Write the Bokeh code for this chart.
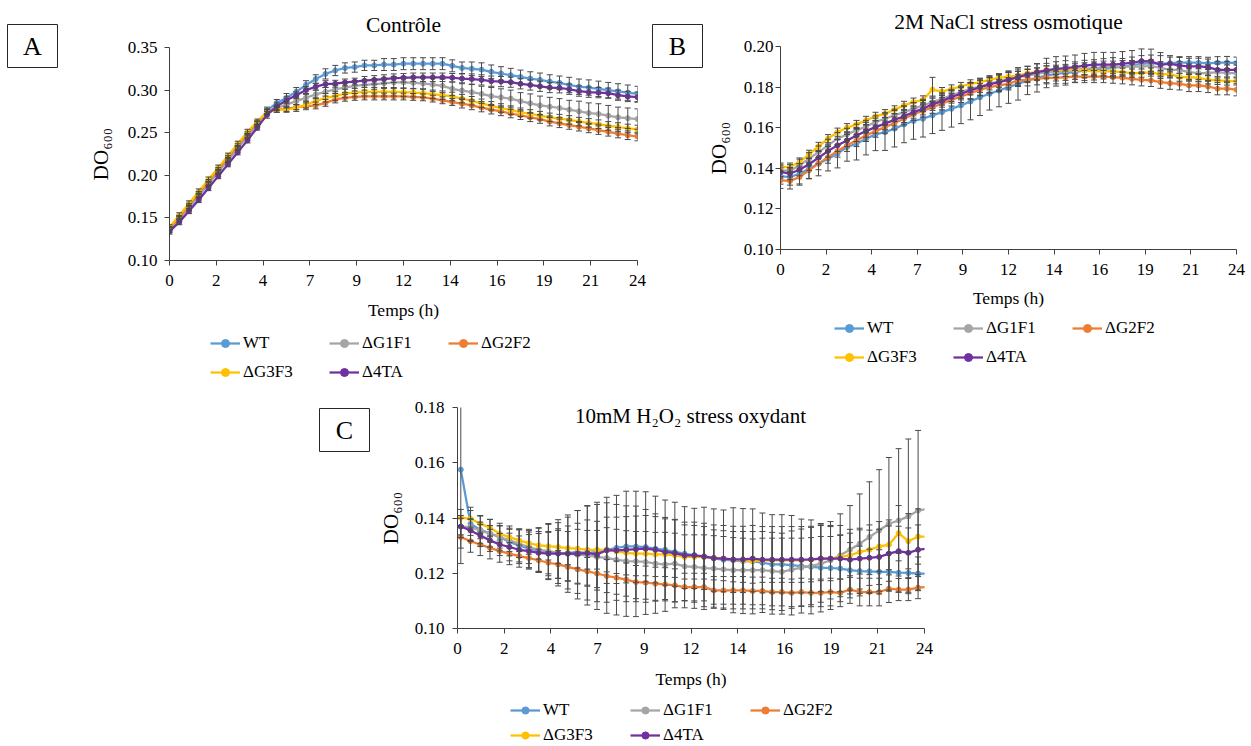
from bokeh.plotting import figure
from bokeh.models import (Range1d, FixedTicker, Label, Legend, LegendItem, Spacer,
                          ColumnDataSource)
from bokeh.layouts import column, row
from bokeh.embed import file_html
from bokeh.resources import INLINE

# ---------------- data ----------------
SERIES = ["WT", "ΔG1F1", "ΔG2F2", "ΔG3F3", "Δ4TA"]
COLORS = ["#5B9BD5", "#A5A5A5", "#ED7D31", "#FFC000", "#7030A0"]

TIME_AB = [0.0, 0.5, 1.0, 1.5, 2.0, 2.5, 3.0, 3.5, 4.0, 4.5, 5.0, 5.5, 6.0, 6.5, 7.0, 7.5,
           8.0, 8.5, 9.0, 9.5, 10.0, 10.5, 11.0, 11.5, 12.0, 12.5, 13.0, 13.5, 14.0, 14.5,
           15.0, 15.5, 16.0, 16.5, 17.0, 17.5, 18.0, 18.5, 19.0, 19.5, 20.0, 20.5, 21.0,
           21.5, 22.0, 22.5, 23.0, 23.5, 24.0]
TIME_C = [0.17, 0.67, 1.17, 1.67, 2.17, 2.67, 3.17, 3.67, 4.17, 4.67, 5.17, 5.67, 6.17,
          6.67, 7.17, 7.67, 8.17, 8.67, 9.17, 9.67, 10.17, 10.67, 11.17, 11.67, 12.17,
          12.67, 13.17, 13.67, 14.17, 14.67, 15.17, 15.67, 16.17, 16.67, 17.17, 17.67,
          18.17, 18.67, 19.17, 19.67, 20.17, 20.67, 21.17, 21.67, 22.17, 22.67, 23.17,
          23.67, 24.17]

X_TICKS = [0, 2.4, 4.8, 7.2, 9.6, 12, 14.4, 16.8, 19.2, 21.6, 24]
X_TICK_LABELS = ["0", "2", "4", "7", "9", "12", "14", "16", "19", "21", "24"]

TITLES = ["Contrôle", "2M NaCl stress osmotique", "10mM H₂O₂ stress oxydant"]
PANEL_LETTERS = ["A", "B", "C"]
X_LABEL = "Temps (h)"
Y_LABEL = "DO₆₀₀"

# ---- Panel A : Contrôle
A_Y_TICKS = [0.10, 0.15, 0.20, 0.25, 0.30, 0.35]
A_Y_LABELS = ["0.10", "0.15", "0.20", "0.25", "0.30", "0.35"]
A_WT = [.136, .149, .162, .176, .190, .204, .218, .232, .246, .260,
        .276, .285, .291, .298, .306, .313, .319, .323, .326, .327, .329, .329, .330, .330,
        .331, .331, .331, .331, .331, .3285, .326, .325, .324, .3215, .3195, .3175, .3155,
        .3135, .312, .310, .3085, .306, .304, .303, .3015, .300, .2985, .297, .2955]
A_G1F1 = [.137, .150, .163, .177, .191, .205, .219, .233, .247, .261,
          .275, .279, .283, .287, .291, .295, .298, .301, .303, .305, .306, .307, .308, .309,
          .309, .3085, .308, .3065, .305, .3015, .2995, .2975, .2955, .293, .2915, .290,
          .287, .2845, .282, .2805, .279, .277, .275, .273, .272, .270, .268, .267, .266]
A_G2F2 = [.138, .151, .165, .179, .193, .207, .221, .235, .249, .262,
          .274, .277, .278, .280, .281, .282, .285, .289, .291, .292, .2925, .2925, .2925,
          .2925, .2925, .292, .2915, .290, .288, .286, .284, .282, .2795, .277, .275, .2725,
          .2705, .268, .266, .263, .261, .259, .257, .255, .253, .251, .249, .247, .2455]
A_G3F3 = [.139, .153, .167, .181, .195, .209, .223, .237, .251, .263,
          .274, .277, .277, .279, .283, .287, .291, .293, .296, .297, .298, .298, .298, .298,
          .2976, .297, .2965, .295, .294, .2925, .290, .2875, .2845, .2815, .279, .2765,
          .274, .272, .270, .268, .2665, .265, .263, .2615, .260, .258, .2567, .255, .2538]
A_4TA = [.134, .145, .158, .171, .185, .199, .213, .227, .241, .256,
         .271, .281, .288, .294, .300, .304, .307, .3075, .309, .310, .311, .312, .313, .314,
         .3144, .315, .315, .315, .315, .3145, .3135, .313, .312, .3105, .310, .3093, .3074,
         .306, .3045, .303, .3027, .301, .2988, .2975, .297, .2964, .294, .2925, .2917]
A_WT_SD = [.003, .003, .003, .003, .003, .003, .003, .003, .003, .003,
           .004, .004, .005, .005, .005, .005, .006, .006, .006, .006,
           .006, .006, .007, .007, .007, .007, .007, .007, .007, .007, .007, .008, .008,
           .008, .008, .008, .008, .008, .008, .008, .008, .009, .009, .009, .009, .009,
           .009, .009, .009]
A_G1F1_SD = [.002, .002, .002, .002, .002, .002, .002, .002, .002, .002,
             .003, .003, .004, .004, .004, .005, .005, .005, .006, .006,
             .006, .006, .006, .007, .007, .007, .007, .008, .008, .008, .009, .009, .009,
             .010, .010, .010, .010, .011, .011, .011, .011, .011, .012, .012, .012, .012,
             .012, .012, .012]
A_G2F2_SD = [.002, .002, .002, .002, .002, .002, .002, .002, .002, .002,
             .003, .003, .003, .003, .004, .004, .004, .004, .004, .004,
             .004, .004, .004, .004, .004, .004, .004, .004, .004, .004, .005, .005, .005,
             .005, .005, .005, .005, .005, .005, .005, .005, .005, .005, .005, .005, .005,
             .005, .005, .005]
A_G3F3_SD = [.003, .003, .003, .003, .003, .003, .003, .003, .003, .003,
             .003, .003, .003, .004, .004, .004, .005, .005, .005, .005,
             .005, .005, .005, .005, .005, .005, .005, .005, .005, .005, .005, .005, .005,
             .005, .005, .005, .005, .005, .005, .005, .005, .005, .005, .005, .005, .005,
             .005, .005, .005]
A_4TA_SD = [.003, .003, .003, .003, .003, .003, .003, .003, .003, .003,
            .004, .004, .004, .004, .004, .004, .004, .004, .004, .004,
            .005, .005, .005, .005, .005, .005, .005, .005, .005, .005, .006, .006, .006,
            .006, .006, .006, .006, .006, .006, .006, .006, .006, .006, .006, .006, .006,
            .006, .006, .006]

# ---- Panel B : 2M NaCl
B_Y_TICKS = [0.10, 0.12, 0.14, 0.16, 0.18, 0.20]
B_Y_LABELS = ["0.10", "0.12", "0.14", "0.16", "0.18", "0.20"]
B_WT = [.1362, .1357, .1373, .1398, .1423, .1447, .1472, .1505, .1521, .1546, .1567, .1578,
        .1595, .1616, .1633, .1644, .1661, .1677, .1693, .171, .1729, .175, .1767, .1783,
        .180, .1816, .1833, .1846, .1857, .1865, .187, .1874, .1882, .1885, .189, .1895,
        .1901, .1908, .1915, .1918, .1915, .1918, .192, .192, .192, .1917, .192, .1921, .1918]
B_G1F1 = [.139, .1388, .1415, .1447, .148, .1513, .1546, .1567, .1587, .1606, .1628, .1644,
          .1661, .1677, .1693, .171, .1726, .1742, .1759, .1775, .1792, .1803, .1816, .1829,
          .1841, .1849, .1857, .1865, .1874, .1878, .1882, .1885, .189, .1894, .1898, .1898,
          .1901, .1901, .1901, .1904, .1895, .1885, .1885, .1874, .1869, .1869, .1874, .1869,
          .1869]
B_G2F2 = [.1341, .1338, .1357, .139, .1423, .1455, .1485, .1513, .1537, .1562, .1583, .1603,
          .1623, .1644, .1666, .1682, .1701, .1718, .1737, .1754, .177, .1787, .180, .1808,
          .1816, .1833, .1836, .1841, .1846, .1846, .1849, .1852, .1852, .1852, .1852, .1849,
          .1846, .1841, .1836, .1833, .1824, .1819, .1816, .1808, .1808, .1803, .1792, .1792,
          .1787]
B_G3F3 = [.1406, .1406, .1431, .1469, .1508, .1546, .1578, .160, .1616, .1636, .1656, .1669,
          .1688, .171, .1726, .1737, .1788, .1778, .1791, .1803, .1816, .1824, .1836, .1846,
          .1852, .1857, .1869, .1874, .1885, .1882, .1885, .1885, .1882, .1878, .1878, .1878,
          .1874, .1869, .1869, .1874, .1862, .1865, .1849, .1849, .1846, .1836, .1833, .183,
          .183]
B_4TA = [.1382, .1374, .1393, .142, .1452, .1485, .1513, .1537, .1562, .1583, .1603, .162,
         .1639, .1656, .1677, .1693, .1715, .1731, .1751, .1767, .1783, .180, .1813, .1824,
         .1836, .1849, .1862, .1874, .1882, .189, .1893, .1898, .1906, .1911, .1911, .1911,
         .1915, .192, .1928, .1927, .191, .1915, .1906, .1902, .1902, .1898, .1885, .1885,
         .1885]
B_WT_SD = [.004, .004, .005, .005, .006, .006, .007, .007, .008, .008,
           .008, .009, .009, .009, .009, .009, .009, .009, .009, .009,
           .009, .009, .008, .008, .008, .008, .007, .007, .006, .006,
           .006, .005, .005, .005, .005, .005, .004, .004, .004, .004,
           .004, .003, .003, .003, .003, .003, .003, .003, .003]
B_G1F1_SD = [.003, .003, .003, .003, .003, .003, .003, .003, .003, .003,
             .003, .003, .003, .003, .003, .003, .003, .003, .003, .003,
             .003, .003, .003, .003, .003, .003, .003, .003, .003, .003,
             .003, .003, .003, .003, .003, .003, .003, .003, .003, .003,
             .003, .003, .004, .004, .004, .004, .004, .004, .004]
B_G2F2_SD = [.004, .004, .004, .004, .003, .003, .003, .003, .003, .003,
             .003, .003, .003, .003, .003, .003, .003, .003, .003, .003,
             .003, .003, .003, .003, .003, .003, .003, .003, .003, .003,
             .003, .003, .003, .003, .003, .003, .003, .003, .003, .003,
             .003, .003, .003, .003, .003, .003, .003, .003, .003]
B_G3F3_SD = [.002, .002, .002, .002, .002, .002, .002, .002, .002, .002,
             .002, .002, .002, .002, .002, .002, .006, .002, .002, .002,
             .002, .002, .002, .002, .002, .002, .002, .002, .002, .002,
             .002, .002, .002, .002, .002, .002, .002, .002, .002, .002,
             .002, .002, .002, .002, .002, .002, .002, .002, .002]
B_4TA_SD = [.003, .003, .003, .003, .003, .003, .003, .003, .003, .003,
            .003, .003, .003, .003, .003, .003, .003, .003, .003, .003,
            .004, .004, .004, .004, .004, .004, .004, .004, .006, .006,
            .006, .006, .006, .006, .006, .006, .006, .006, .006, .006,
            .006, .004, .004, .004, .004, .004, .004, .004, .004]

# ---- Panel C : 10mM H2O2
C_Y_TICKS = [0.10, 0.12, 0.14, 0.16, 0.18]
C_Y_LABELS = ["0.10", "0.12", "0.14", "0.16", "0.18"]
C_WT = [.1575, .1379, .1357, .1345, .1331, .1313, .1301, .1289, .1283, .1277, .1273, .1273,
        .1277, .1273, .1277, .1285, .1292, .1297, .1297, .1295, .1289, .1285, .1277, .1271,
        .1265, .1259, .1253, .1249, .1247, .1244, .1243, .1238, .1232, .1232, .1229, .1226,
        .1223, .122, .1219, .1217, .1211, .1208, .1207, .1205, .1205, .1202, .1201, .1199,
        .1199]
C_G1F1 = [.1369, .1367, .1355, .1343, .1331, .1319, .1307, .1295, .1285, .128, .1274, .1271,
          .1267, .1265, .1259, .1255, .1249, .1244, .1243, .1241, .1235, .1232, .1235, .1225,
          .1223, .1219, .1217, .1214, .1211, .1211, .1211, .1211, .1208, .1205, .1213, .122,
          .1226, .1235, .1247, .1265, .1285, .1307, .1331, .1355, .1379, .1391, .1406, .1427,
          .1433]
C_G2F2 = [.1331, .1316, .1304, .1292, .128, .1271, .1262, .1255, .1247, .1238, .1232, .1223,
          .1214, .1207, .1199, .119, .1184, .1177, .1168, .1166, .1162, .116, .1156, .115,
          .115, .115, .1138, .1138, .1138, .1138, .1136, .1136, .1132, .1132, .1129, .1132,
          .1129, .1129, .1132, .1129, .1141, .1132, .1132, .1132, .1144, .1141, .1141, .1148,
          .115]
C_G3F3 = [.1401, .1397, .1379, .1365, .1343, .1331, .1319, .1309, .1301, .1298, .1295, .1291,
          .1289, .1285, .1285, .1285, .1279, .1274, .1271, .1271, .1268, .1268, .1265, .1259,
          .1259, .1259, .1256, .1253, .1249, .1247, .1244, .1247, .1247, .1247, .1247, .1247,
          .1249, .1253, .1253, .1259, .1265, .1277, .1285, .1297, .1303, .1345, .1316, .1333,
          .1333]
C_4TA = [.1369, .1355, .1337, .1319, .1304, .1295, .1285, .128, .1274, .1271, .1271, .1271,
         .1271, .1273, .1268, .1283, .1283, .1285, .1287, .1289, .1285, .1277, .1273, .1265,
         .1265, .1261, .1255, .1253, .125, .125, .1253, .1249, .1249, .1249, .1249, .1249,
         .125, .1253, .1253, .1253, .1249, .1253, .1256, .1259, .1271, .128, .1274, .1285,
         .1289]
C_WT_SD = [.034, .006, .005, .005, .005, .005, .006, .007, .008, .010,
           .011, .013, .015, .017, .018, .019, .019, .020, .020, .020,
           .019, .018, .018, .017, .017, .018, .018, .018, .019, .019,
           .019, .018, .018, .018, .018, .017, .017, .016, .015, .012,
           .010, .009, .008, .008, .007, .007, .007, .006, .006]
C_G1F1_SD = [.003, .003, .003, .003, .004, .004, .005, .006, .008, .010,
             .012, .014, .016, .018, .019, .020, .020, .020, .020, .019,
             .018, .017, .016, .015, .015, .015, .014, .014, .014, .014,
             .014, .014, .014, .014, .014, .014, .014, .014, .014, .015,
             .016, .018, .020, .022, .024, .026, .028, .029, .030]
C_G2F2_SD = [.004, .004, .004, .004, .004, .004, .004, .004, .004, .004,
             .005, .005, .005, .005, .006, .006, .006, .006, .006, .006,
             .006, .006, .006, .005, .005, .005, .005, .005, .005, .005,
             .005, .005, .005, .005, .005, .005, .005, .005, .005, .005,
             .005, .005, .005, .005, .005, .004, .004, .004, .004]
C_G3F3_SD = [.003, .003, .003, .003, .003, .004, .004, .004, .005, .005,
             .006, .006, .007, .007, .007, .008, .008, .008, .008, .008,
             .008, .008, .008, .008, .008, .008, .008, .008, .008, .008,
             .008, .008, .008, .008, .008, .008, .008, .008, .008, .008,
             .008, .008, .009, .009, .009, .010, .010, .010, .010]
C_4TA_SD = [.004, .004, .004, .004, .004, .005, .005, .006, .007, .008,
            .009, .010, .011, .012, .012, .012, .012, .012, .012, .012,
            .012, .012, .012, .012, .012, .012, .012, .012, .012, .012,
            .012, .012, .012, .012, .012, .012, .012, .012, .012, .012,
            .011, .011, .010, .010, .010, .009, .009, .009, .009]

# ---------------- style ----------------
FONT = "Liberation Serif"
AXIS_COLOR = "#404040"
ERR_COLOR = "#4a4a4a"


def make_panel(width, height, mb, y_range, y_ticks, y_labels, y_standoff,
               ylab_standoff, xlab_standoff, time, values, sds):
    p = figure(width=width, height=height, title=None,
               x_range=Range1d(0, 24), y_range=Range1d(*y_range),
               output_backend="svg", toolbar_location=None,
               min_border_left=mb[0], min_border_right=mb[1],
               min_border_top=mb[2], min_border_bottom=mb[3])
    p.outline_line_color = None
    p.xgrid.visible = False
    p.ygrid.visible = False
    p.background_fill_color = "white"
    p.border_fill_color = "white"

    p.xaxis.ticker = FixedTicker(ticks=X_TICKS)
    p.xaxis.major_label_overrides = dict(zip(X_TICKS, X_TICK_LABELS))
    p.yaxis.ticker = FixedTicker(ticks=y_ticks)
    p.yaxis.major_label_overrides = dict(zip(y_ticks, y_labels))
    for ax in (p.xaxis[0], p.yaxis[0]):
        ax.axis_line_color = AXIS_COLOR
        ax.axis_line_width = 1
        ax.major_tick_line_color = AXIS_COLOR
        ax.minor_tick_line_color = None
        ax.major_tick_out = 5
        ax.major_tick_in = 0
        ax.major_label_text_font = FONT
        ax.major_label_text_font_size = "17px"
        ax.major_label_text_color = "black"
        ax.axis_label_text_font = FONT
        ax.axis_label_text_font_style = "normal"
        ax.axis_label_text_color = "black"
    p.xaxis.major_label_standoff = 9
    p.yaxis.major_label_standoff = y_standoff
    p.xaxis.axis_label = X_LABEL
    p.xaxis.axis_label_text_font_size = "17.5px"
    p.xaxis.axis_label_standoff = xlab_standoff
    p.yaxis.axis_label = Y_LABEL
    p.yaxis.axis_label_text_font_size = "21px"
    p.yaxis.axis_label_standoff = ylab_standoff

    for color, vals in zip(COLORS, values):
        src = ColumnDataSource(dict(t=time, y=vals))
        p.line("t", "y", source=src, line_color=color, line_width=2.25)
        p.scatter("t", "y", source=src, marker="circle", size=5,
                  fill_color=color, line_color=color)
    for vals, sd in zip(values, sds):
        src = ColumnDataSource(dict(t=time,
                                    lo=[v - s for v, s in zip(vals, sd)],
                                    hi=[v + s for v, s in zip(vals, sd)]))
        p.segment(x0="t", y0="lo", x1="t", y1="hi", source=src,
                  line_color=ERR_COLOR, line_width=1)
        p.scatter("t", "hi", source=src, marker="dash", size=6,
                  line_color=ERR_COLOR, line_width=1)
        p.scatter("t", "lo", source=src, marker="dash", size=6,
                  line_color=ERR_COLOR, line_width=1)
    return p


def blank_fig(width, height, border=0):
    f = figure(width=width, height=height, x_range=Range1d(0, 1), y_range=Range1d(0, 1),
               x_axis_type=None, y_axis_type=None, title=None, min_border=border,
               output_backend="svg", toolbar_location=None)
    f.grid.visible = False
    f.outline_line_color = None
    f.background_fill_color = "white"
    f.border_fill_color = "white"
    return f


def legend_fig(width, height, loc, gh, spacing, lw):
    f = blank_fig(width, height)
    items = []
    for name, color in zip(SERIES, COLORS):
        # sample renderers kept outside the visible range: only their legend glyphs show
        src = ColumnDataSource(dict(x=[5, 6], y=[5, 6]))
        lr = f.line("x", "y", source=src, line_color=color, line_width=2.25)
        sr = f.scatter("x", "y", source=src, marker="circle", size=5,
                       fill_color=color, line_color=color)
        items.append(LegendItem(label=name, renderers=[lr, sr]))
    leg = Legend(items=items, location=loc, orientation="horizontal", ncols=3,
                 glyph_width=30, glyph_height=gh, label_height=gh, label_width=lw,
                 label_standoff=3, spacing=spacing, padding=0, margin=0,
                 border_line_color=None, background_fill_alpha=0,
                 label_text_font=FONT, label_text_font_size="17px",
                 label_text_color="black")
    f.add_layout(leg)
    return f


def title_fig(width, height, text, y):
    f = blank_fig(width, height)
    f.add_layout(Label(x=0.5, y=y, x_units="data", y_units="screen", text=text,
                       text_font=FONT, text_font_size="21.5px", text_color="black",
                       text_align="center", text_baseline="alphabetic"))
    return f


def letter_box(letter):
    b = blank_fig(52, 45, border=1)
    b.outline_line_color = "#262626"
    b.outline_line_width = 1
    b.add_layout(Label(x=0.5, y=0.5, text=letter, text_align="center",
                       text_baseline="middle", text_font=FONT, text_font_size="26px",
                       text_color="black"))
    return b


# ---------------- Panel A ----------------
tA = title_fig(590, 37, TITLES[0], 12.5)
pA = make_panel(590, 288, (111, 11, 10, 65), (0.10, 0.35), A_Y_TICKS,
                A_Y_LABELS, 7, 12, 11, TIME_AB,
                [A_WT, A_G1F1, A_G2F2, A_G3F3, A_4TA],
                [A_WT_SD, A_G1F1_SD, A_G2F2_SD, A_G3F3_SD, A_4TA_SD])
legA = legend_fig(590, 58, (41, 1), 20, 9, 77)

# ---------------- Panel B ----------------
tB = title_fig(548, 36, TITLES[1], 14.7)
pB = make_panel(548, 276, (65, 15, 10, 63), (0.10, 0.20), B_Y_TICKS,
                B_Y_LABELS, 2, 10, 10, TIME_AB,
                [B_WT, B_G1F1, B_G2F2, B_G3F3, B_4TA],
                [B_WT_SD, B_G1F1_SD, B_G2F2_SD, B_G3F3_SD, B_4TA_SD])
legB = legend_fig(548, 71, (54, 16), 20, 9, 77)

# ---------------- Panel C ----------------
pC = make_panel(569, 317, (87, 15, 24, 72), (0.10, 0.18), C_Y_TICKS,
                C_Y_LABELS, 8, 9, 12, TIME_C,
                [C_WT, C_G1F1, C_G2F2, C_G3F3, C_4TA],
                [C_WT_SD, C_G1F1_SD, C_G2F2_SD, C_G3F3_SD, C_4TA_SD])
pC.add_layout(Label(x=233, y=213, x_units="screen", y_units="screen", text=TITLES[2],
                    text_font=FONT, text_font_size="21px", text_color="black",
                    text_align="center", text_baseline="alphabetic"))
legC = legend_fig(569, 46, (53, 1), 18, 5, 82)

row1 = row(Spacer(width=6, height=10),
           column(Spacer(width=52, height=23), letter_box(PANEL_LETTERS[0])),
           column(tA, pA, legA),
           Spacer(width=3, height=10),
           column(Spacer(width=52, height=23), letter_box(PANEL_LETTERS[1])),
           column(tB, pB, legB))
row2 = row(Spacer(width=318, height=10),
           column(Spacer(width=52, height=24), letter_box(PANEL_LETTERS[2])),
           column(pC, legC))
layout = column(row1, row2)

with open("out.html", "w") as f:
    f.write(file_html(layout, INLINE))
